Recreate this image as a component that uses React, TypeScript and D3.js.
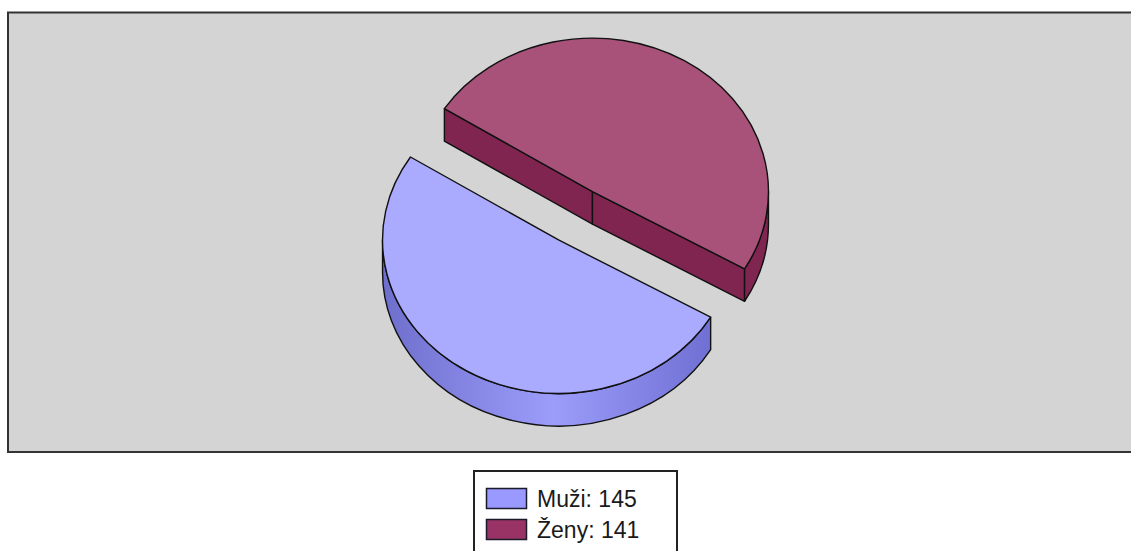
import React from "react";
import * as d3 from "d3";

const categories = ["Muži", "Ženy"];
const values = [145, 141];
const topColors = ["#aaaaff", "#a8527a"];
const sideColors = ["url(#muziSide)", "#7f2550"];
const legendColors = ["#9999ff", "#993366"];

const W = 1131;
const H = 551;

export default function App() {
  const cx = 575.5;
  const cy = 215.8;
  const rx = 176;
  const ry = 153.5;
  const depth = 32.5;
  const explode = 32.5 / rx; // fraction of radius
  const deg = Math.PI / 180;

  const pie = d3
    .pie<number>()
    .sort(null)
    .startAngle(120.2 * deg)
    .endAngle(480.2 * deg);
  const arcs = pie(values);

  const slices = arcs.map((a, i) => {
    const a0 = a.startAngle - Math.PI / 2;
    const a1 = a.endAngle - Math.PI / 2;
    const mid = (a0 + a1) / 2;
    const ox = cx + explode * rx * Math.cos(mid);
    const oy = cy + explode * ry * Math.sin(mid);
    const p = (t: number, dz = 0): [number, number] => [
      ox + rx * Math.cos(t),
      oy + ry * Math.sin(t) + dz,
    ];
    const large = a1 - a0 > Math.PI ? 1 : 0;
    const s0 = p(a0);
    const s1 = p(a1);
    const top = `M${ox},${oy}L${s0[0]},${s0[1]}A${rx},${ry} 0 ${large} 1 ${s1[0]},${s1[1]}Z`;

    const faces: string[] = [];
    const radial = (t: number, normal: number) => {
      if (Math.sin(normal) > 0) {
        const q = p(t);
        faces.push(
          `M${ox},${oy}L${q[0]},${q[1]}L${q[0]},${q[1] + depth}L${ox},${oy + depth}Z`
        );
      }
    };
    radial(a0, a0 - Math.PI / 2);
    radial(a1, a1 + Math.PI / 2);

    const sides: string[] = [];
    for (let k = -1; k <= 2; k++) {
      const lo = Math.max(a0, k * 2 * Math.PI);
      const hi = Math.min(a1, k * 2 * Math.PI + Math.PI);
      if (hi > lo + 1e-6) {
        const u = p(lo);
        const v = p(hi);
        const lg = hi - lo > Math.PI ? 1 : 0;
        sides.push(
          `M${u[0]},${u[1]}A${rx},${ry} 0 ${lg} 1 ${v[0]},${v[1]}L${v[0]},${v[1] + depth}A${rx},${ry} 0 ${lg} 0 ${u[0]},${u[1] + depth}Z`
        );
      }
    }
    return { i, top, faces, sides, sortKey: oy };
  });

  const ordered = [...slices].sort((a, b) => a.sortKey - b.sortKey);

  return (
    <svg
      width={W}
      height={H}
      style={{ position: "absolute", left: 0, top: 0, background: "#ffffff" }}
    >
      <defs>
        <linearGradient id="muziSide" x1="0" y1="0" x2="1" y2="0">
          <stop offset="0" stopColor="#6e6ecc" />
          <stop offset="0.52" stopColor="#9c9cfa" />
          <stop offset="1" stopColor="#7070d4" />
        </linearGradient>
      </defs>
      <rect
        x={8}
        y={12.5}
        width={1135}
        height={439.5}
        fill="#d4d4d4"
        stroke="#333333"
        strokeWidth={2}
      />
      {ordered.map((s) => (
        <g key={s.i} stroke="#111111" strokeWidth={1.4} strokeLinejoin="round">
          {s.faces.map((f, j) => (
            <path key={"f" + j} d={f} fill={s.i === 0 ? "#7a7ad8" : sideColors[s.i]} />
          ))}
          {s.sides.map((f, j) => (
            <path key={"s" + j} d={f} fill={sideColors[s.i]} />
          ))}
          <path d={s.top} fill={topColors[s.i]} />
        </g>
      ))}
      <g>
        <rect
          x={474}
          y={471}
          width={203}
          height={100}
          fill="#ffffff"
          stroke="#222222"
          strokeWidth={2}
        />
        {categories.map((c, i) => (
          <g key={c} transform={`translate(0, ${i * 31})`}>
            <rect
              x={486.5}
              y={488.5}
              width={40}
              height={20}
              fill={legendColors[i]}
              stroke="#1a1a2a"
              strokeWidth={1.5}
            />
            <text
              x={537}
              y={507}
              fontFamily="'Liberation Sans', Arial, sans-serif"
              fontSize={23}
              fill="#1a1a1a"
            >
              {`${c}: ${values[i]}`}
            </text>
          </g>
        ))}
      </g>
    </svg>
  );
}
